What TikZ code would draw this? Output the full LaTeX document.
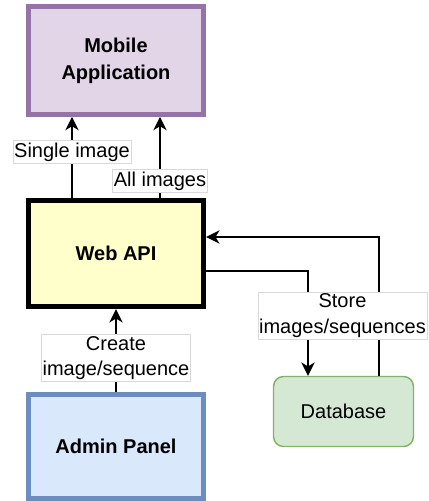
\documentclass[tikz,border=0pt]{standalone}
\usepackage{fontspec}
\setmainfont{Liberation Sans}
\usepackage{tikz}
\usetikzlibrary{arrows.meta,calc}
\usepackage{xcolor}
\definecolor{mobline}{HTML}{9673A6}
\definecolor{mobfill}{HTML}{E1D5E7}
\definecolor{apifill}{HTML}{FFFFCC}
\definecolor{admline}{HTML}{6C8EBF}
\definecolor{admfill}{HTML}{DAE8FC}
\definecolor{dbline}{HTML}{82B366}
\definecolor{dbfill}{HTML}{D5E8D4}

\begin{document}
\begin{tikzpicture}[x=0.75pt,y=-0.75pt,
    block/.style={draw,line width=3.6pt,minimum width=131.25pt,align=center,font=\fontsize{15}{20}\selectfont\bfseries},
    lbl/.style={fill=white,draw=black!15,line width=0.4pt,align=center,inner xsep=1pt,inner ysep=1.5pt,font=\fontsize{15}{19}\selectfont},
    conn/.style={line width=1.2pt,-{Stealth[length=10pt,width=10pt,inset=3pt]}}]

    % Fix the page size
    \useasboundingbox (0,0) rectangle (429,501);

    \node[block,draw=mobline,fill=mobfill,minimum height=81pt] (mobile) at (116,60.5) {Mobile\\Application};
    \node[block,draw=black,fill=apifill,minimum height=79.5pt,line width=4pt] (webapi) at (116,253.5) {Web API};
    \node[block,draw=admline,fill=admfill,minimum height=78pt] (admin) at (116,446.5) {Admin Panel};
    \node[draw=dbline,fill=dbfill,rounded corners=7.5pt,line width=1.1pt,minimum width=105pt,minimum height=52.5pt,font=\fontsize{15}{19}\selectfont] (db) at (343.5,411.5) {Database};

    % Connectors
    \draw[conn] ($(webapi.north)+(-44,0)$) -- ($(mobile.south)+(-44,0)$);
    \draw[conn] ($(webapi.north)+(44,0)$) -- ($(mobile.south)+(44,0)$);
    \draw[conn] (admin.north) -- (webapi.south);
    \draw[conn] ($(webapi.east)+(0,17.5)$) -| ($(db.north)+(-35.5,0)$);
    \draw[conn] ($(db.north)+(35.5,0)$) |- ($(webapi.east)+(0,-16.5)$);

    % Labels on the connectors
    \node[lbl] (single) at (72,152) {Single image};
    \node[lbl] (allimg) at (160,181) {All images};
    \node[lbl] (create) at (116,358) {Create\\image/sequence};
    \node[lbl] (store) at (342.5,315.5) {Store\\images/sequences};

\end{tikzpicture}
\end{document}
